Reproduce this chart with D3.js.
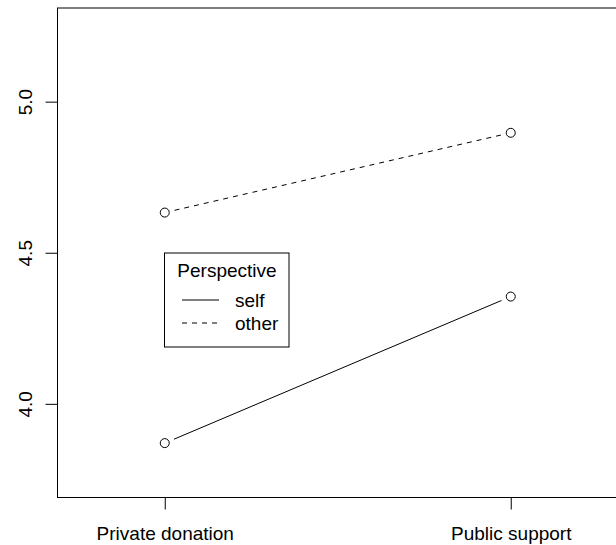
<!DOCTYPE html>
<html>
<head>
<meta charset="utf-8">
<script src="https://cdn.jsdelivr.net/npm/d3@7"></script>
<style>
  html, body { margin: 0; padding: 0; background: #fff; }
  svg { display: block; font-family: "Liberation Sans", Arial, Helvetica, sans-serif; }
</style>
</head>
<body>
<svg id="chart" width="616" height="545"></svg>
<script>
// ---- data ----
const categories = ["Private donation", "Public support"];
const selfValues = [3.870, 4.355];
const otherValues = [4.633, 4.897];
const yTicks = [4.0, 4.5, 5.0];
const seriesNames = ["self", "other"];
const legendTitle = "Perspective";

// ---- layout ----
const W = 616, H = 545;
const plot = { left: 57.5, right: 618, top: 8, bottom: 497.5 };
const fontSize = 19;

const svg = d3.select("#chart");

const x = d3.scaleLinear().domain([0.69, 2.31]).range([plot.left, plot.right]);
const y = d3.scaleLinear().domain([3.69, 5.31]).range([plot.bottom, plot.top]);

// box
svg.append("rect")
  .attr("x", plot.left).attr("y", plot.top)
  .attr("width", plot.right - plot.left).attr("height", plot.bottom - plot.top)
  .attr("fill", "none").attr("stroke", "#000").attr("stroke-width", 1);

// x axis
const xAxis = d3.axisBottom(x)
  .tickValues(categories.map((d, i) => i + 1))
  .tickFormat((d) => categories[d - 1])
  .tickSize(12).tickPadding(17).tickSizeOuter(0);
const gx = svg.append("g").attr("transform", `translate(0,${plot.bottom})`).call(xAxis);
gx.select(".domain").remove();
gx.selectAll("line").attr("stroke", "#000");
gx.selectAll("text").attr("font-size", fontSize).attr("fill", "#000")
  .attr("font-family", "Liberation Sans, Arial, sans-serif")
  .attr("dy", "0.71em");

// y axis
const yAxis = d3.axisLeft(y)
  .tickValues(yTicks)
  .tickFormat(d3.format(".1f"))
  .tickSize(12).tickSizeOuter(0);
const gy = svg.append("g").attr("transform", `translate(${plot.left},0)`).call(yAxis);
gy.select(".domain").remove();
gy.selectAll("line").attr("stroke", "#000");
gy.selectAll("text")
  .attr("font-size", fontSize).attr("fill", "#000")
  .attr("font-family", "Liberation Sans, Arial, sans-serif")
  .attr("x", null).attr("dy", null)
  .attr("text-anchor", "middle")
  .attr("transform", "translate(-26,0) rotate(-90)");

// series
const series = [
  { name: seriesNames[0], values: selfValues, dash: null },
  { name: seriesNames[1], values: otherValues, dash: "5,5" }
];

const gap = 10;
series.forEach((s) => {
  const pts = s.values.map((v, i) => [x(i + 1), y(v)]);
  for (let i = 0; i < pts.length - 1; i++) {
    const [x0, y0] = pts[i], [x1, y1] = pts[i + 1];
    const dx = x1 - x0, dy = y1 - y0, len = Math.hypot(dx, dy);
    const ux = dx / len, uy = dy / len;
    svg.append("line")
      .attr("x1", x0 + ux * gap).attr("y1", y0 + uy * gap)
      .attr("x2", x1 - ux * gap).attr("y2", y1 - uy * gap)
      .attr("stroke", "#000").attr("stroke-width", 1)
      .attr("stroke-dasharray", s.dash);
  }
  svg.selectAll(null).data(s.values).enter().append("circle")
    .attr("cx", (d, i) => x(i + 1)).attr("cy", (d) => y(d))
    .attr("r", 4.5).attr("fill", "none").attr("stroke", "#000").attr("stroke-width", 1);
});

// legend
const lg = svg.append("g");
const lb = { x: 164.5, y: 253, w: 124.5, h: 94 };
lg.append("rect").attr("x", lb.x).attr("y", lb.y).attr("width", lb.w).attr("height", lb.h)
  .attr("fill", "#fff").attr("stroke", "#000");
lg.append("text").attr("x", 227).attr("y", 277).attr("text-anchor", "middle")
  .attr("font-size", fontSize).text(legendTitle);
series.forEach((s, i) => {
  const ry = 300 + i * 23;
  lg.append("line").attr("x1", 182).attr("x2", 219).attr("y1", ry).attr("y2", ry)
    .attr("stroke", "#000").attr("stroke-dasharray", s.dash);
  lg.append("text").attr("x", 235).attr("y", ry + 7).attr("font-size", fontSize).text(s.name);
});
</script>
</body>
</html>
